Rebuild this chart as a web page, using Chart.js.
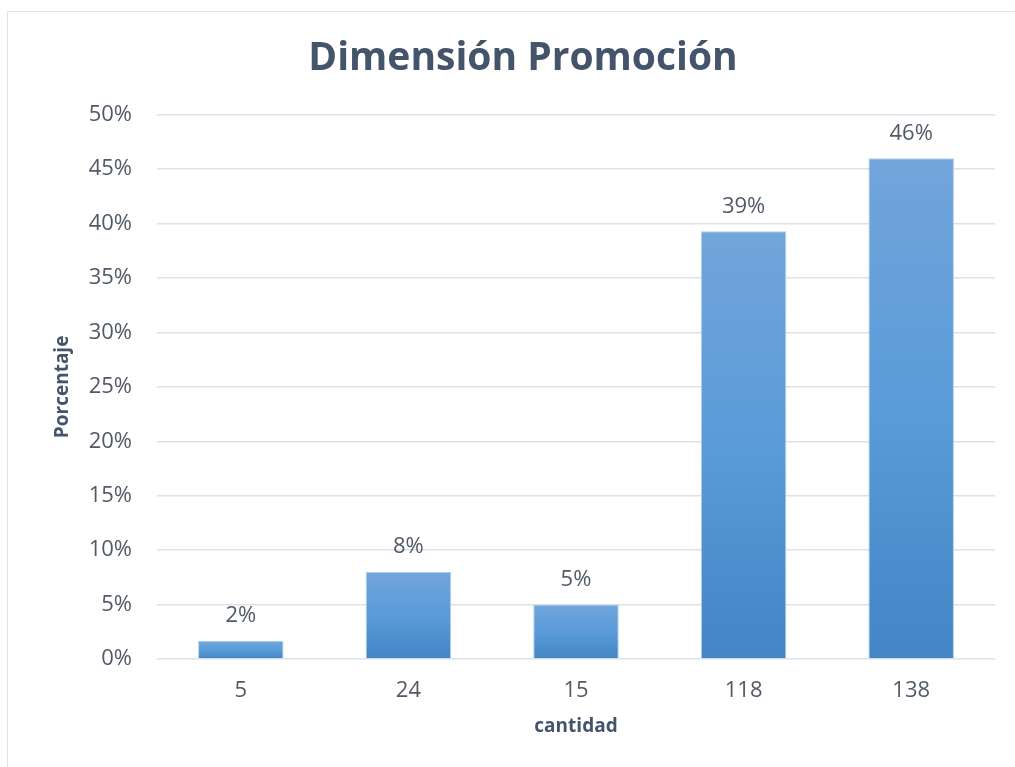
<!DOCTYPE html>
<html>
<head>
<meta charset="utf-8">
<script src="https://cdn.jsdelivr.net/npm/chart.js@4.4.1/dist/chart.umd.min.js"></script>
<style>
  html, body { margin: 0; padding: 0; background: #fff; }
  #wrap { position: relative; width: 1015px; height: 767px; overflow: hidden; }
  #frame { position: absolute; left: 7px; top: 11px; width: 1100px; height: 900px; border: 1px solid #dfe3ea; box-sizing: border-box; }
  #chart { position: absolute; left: 0; top: 0; }
</style>
</head>
<body>
<div id="wrap">
  <div id="frame"></div>
  <canvas id="chart" width="1015" height="767"></canvas>
</div>
<script>
const categories = ["5", "24", "15", "118", "138"];
const percentages = [1.67, 8.0, 5.0, 39.3, 46.0];
const yTicks = [0, 5, 10, 15, 20, 25, 30, 35, 40, 45, 50];

const FONT = "'Open Sans', 'Noto Sans', sans-serif";
const TEXT = "#525a66";
const DARK = "#44546A";

function barGradient(ctx) {
  const chart = ctx.chart;
  const y = chart.scales.y;
  if (!chart.chartArea || !y || ctx.dataIndex === undefined) return "#5b9bd5";
  const top = y.getPixelForValue(percentages[ctx.dataIndex]);
  const bottom = y.getPixelForValue(0);
  const g = chart.ctx.createLinearGradient(0, top, 0, bottom);
  g.addColorStop(0, "#72a5da");
  g.addColorStop(0.5, "#5a9bd9");
  g.addColorStop(1, "#4385c5");
  return g;
}

// percent labels above each bar
const valueLabels = {
  id: "valueLabels",
  afterDatasetsDraw(chart) {
    const ctx = chart.ctx;
    const meta = chart.getDatasetMeta(0);
    ctx.save();
    ctx.font = "22px " + FONT;
    ctx.fillStyle = TEXT;
    ctx.textAlign = "center";
    ctx.textBaseline = "middle";
    meta.data.forEach((bar, i) => {
      ctx.fillText(Math.round(percentages[i]) + "%", bar.x, bar.y - 25);
    });
    ctx.restore();
  }
};

new Chart(document.getElementById("chart"), {
  type: "bar",
  data: {
    labels: categories,
    datasets: [{
      data: percentages,
      backgroundColor: barGradient,
      borderColor: "rgba(170,200,235,0.9)",
      borderWidth: 1,
      barPercentage: 1,
      categoryPercentage: 0.51
    }]
  },
  options: {
    responsive: false,
    animation: false,
    layout: { padding: { left: 51, right: 20, top: 0, bottom: 29 } },
    plugins: {
      legend: { display: false },
      tooltip: { enabled: false },
      title: {
        display: true,
        text: "Dimensión Promoción",
        color: DARK,
        font: { family: FONT, size: 39, weight: "bold", lineHeight: 1.2 },
        padding: { top: 35, bottom: 33 }
      }
    },
    scales: {
      x: {
        grid: { display: false, drawTicks: false },
        border: { display: false },
        ticks: { color: TEXT, font: { family: FONT, size: 22 }, padding: 19 },
        title: {
          display: true,
          text: "cantidad",
          color: DARK,
          font: { family: FONT, size: 19, weight: "bold", lineHeight: 1.2 },
          padding: 0
        },
        afterFit(scale) { scale.height = 79; }
      },
      y: {
        min: 0,
        max: 50,
        afterBuildTicks(scale) { scale.ticks = yTicks.map(v => ({ value: v })); },
        grid: { color: "#dde1e8", lineWidth: 1.5, drawTicks: false },
        border: { display: false },
        ticks: {
          color: TEXT,
          font: { family: FONT, size: 22 },
          padding: 25,
          callback: v => v + "%"
        },
        title: {
          display: true,
          text: "Porcentaje",
          color: DARK,
          font: { family: FONT, size: 19, weight: "bold", lineHeight: 1.2 },
          padding: 0
        },
        afterFit(scale) { scale.width = 106; }
      }
    }
  },
  plugins: [valueLabels]
});
</script>
</body>
</html>
